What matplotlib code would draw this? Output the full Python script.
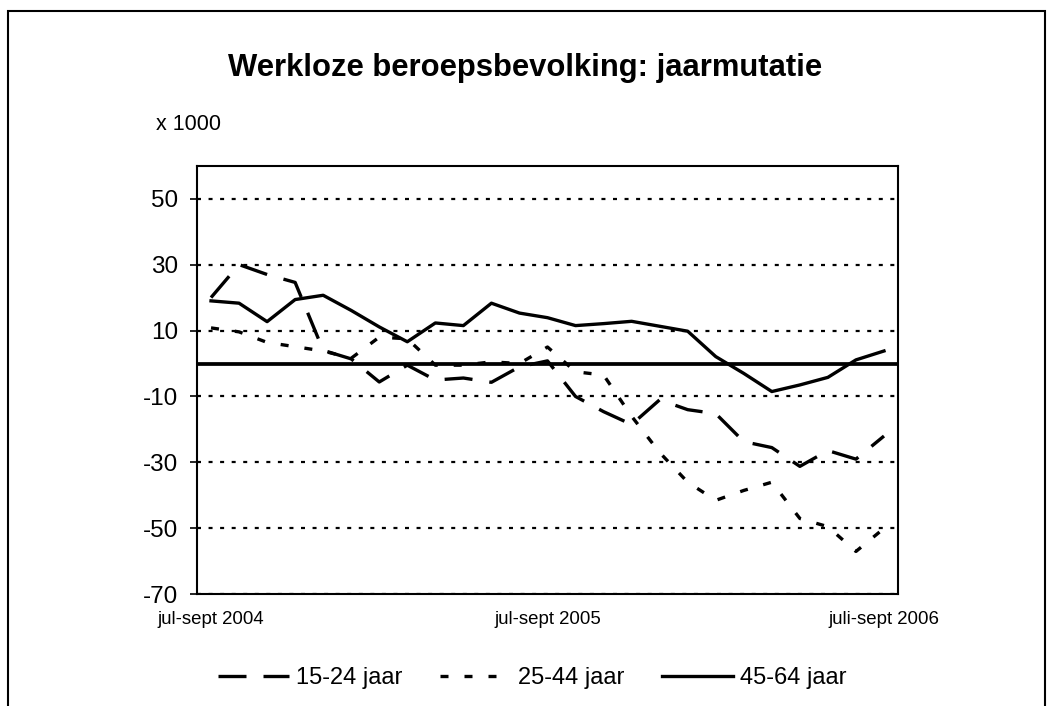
import numpy as np
import matplotlib
matplotlib.use('Agg')
import matplotlib.pyplot as plt
from matplotlib.patches import Rectangle

plt.rcParams['font.family'] = ['Liberation Sans', 'DejaVu Sans']
plt.rcParams['axes.unicode_minus'] = False

# maandcijfers (driemaandsgemiddelden), x 1000
jaar_15_24 = [20, 30, 27, 24.6, 4, 1.4, -5.6, -0.5, -5, -4.4, -5.7, -1, 0.8,
              -10, -14.6, -18.5, -11, -14, -15.2, -23.7, -25.5, -31.2, -26.4, -29, -22]
jaar_25_44 = [10.8, 9.6, 6.4, 5.1, 3.8, 1.6, 8, 7.5, -0.5, -0.5, 0.5, 0, 5,
              -2.5, -3.5, -16, -27, -36, -41.5, -38.5, -36, -47, -49.5, -57, -50]
jaar_45_64 = [19, 18.3, 12.7, 19.4, 20.7, 16.1, 11.1, 6.6, 12.3, 11.5, 18.3, 15.3, 13.9,
              11.5, 12.1, 12.8, 11.3, 9.8, 2.1, -3.0, -8.5, -6.5, -4.2, 1.1, 3.8]

tick_pos = [0, 12, 24]
tick_lab = ['jul-sept 2004', 'jul-sept 2005', 'juli-sept 2006']
y_ticks = [-70, -50, -30, -10, 10, 30, 50]

fig = plt.figure(figsize=(10.48, 7.06), dpi=100)
ax = fig.add_axes([197/1048, 1-594.3/706, (898-197)/1048, (594.3-165.7)/706])

x = np.arange(len(jaar_15_24))
lw = 2.4
ax.axhline(0, color='black', lw=2.7, zorder=2)
ax.plot(x, jaar_15_24, color='black', lw=lw, linestyle=(0, (8.4, 5.1)), label='15-24 jaar', zorder=3)
ax.plot(x, jaar_25_44, color='black', lw=lw, linestyle=(0, (2.4, 4.8)), label='25-44 jaar', zorder=3)
ax.plot(x, jaar_45_64, color='black', lw=lw, linestyle='-', label='45-64 jaar', zorder=3)

ax.set_xlim(-0.5, len(x)-0.5)
ax.set_ylim(-70, 60)
ax.set_yticks(y_ticks)
ax.set_xticks(tick_pos)
ax.set_xticklabels(tick_lab)
ax.tick_params(axis='y', direction='out', length=5, width=1.2, labelsize=17.5, pad=8.5)
ax.tick_params(axis='x', length=0, labelsize=13.4, pad=12)
ax.yaxis.grid(True, color='black', lw=1.6, linestyle=(0, (1.8, 3.4)))
ax.set_axisbelow(True)
for s in ax.spines.values():
    s.set_linewidth(1.5)
    s.set_color('black')

fig.text(525/1048, 1-68/706, 'Werkloze beroepsbevolking: jaarmutatie',
         ha='center', va='center', fontsize=22.3, fontweight='bold')
fig.text(156/1048, 1-124/706, 'x 1000', ha='left', va='center', fontsize=15.5)

fig.legend(loc='center', bbox_to_anchor=(532/1048, 1-678/706), ncol=3, frameon=False,
           fontsize=17, handlelength=3.0, handletextpad=0.3, columnspacing=1.6)

fig.patches.append(Rectangle((8/1048, -0.05), (1045-8)/1048, 1-11/706+0.05,
                             transform=fig.transFigure, fill=False, lw=1.5,
                             edgecolor='black', clip_on=False))

fig.savefig('out.png', dpi=100)
